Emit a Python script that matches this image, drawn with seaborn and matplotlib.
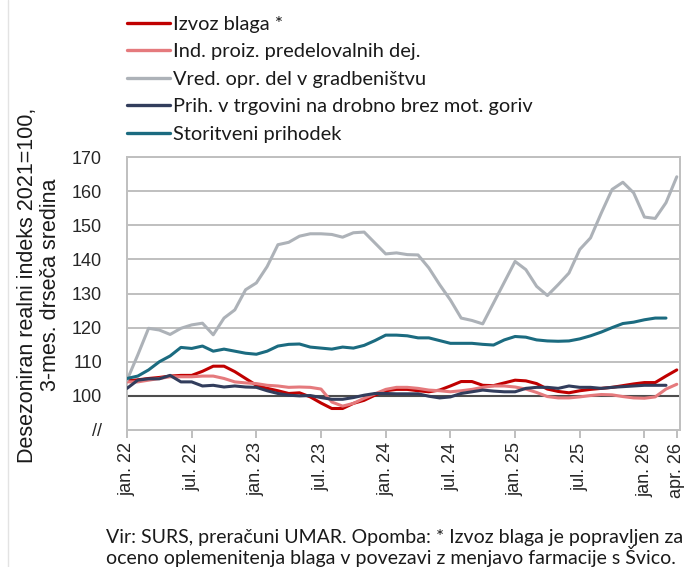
import numpy as np
import pandas as pd
import matplotlib
matplotlib.use("Agg")
import matplotlib.pyplot as plt
from matplotlib.lines import Line2D
import seaborn as sns

# ---------------- data (monthly, jan. 22 = index 0) ----------------
izvoz_blaga = [104.4, 104.7, 105.1, 105.4, 105.8, 106.0, 106.0, 107.2, 108.7, 108.7,
               107.1, 105.1, 103.1, 102.2, 101.5, 100.7, 100.9, 99.7, 97.9, 96.3,
               96.3, 97.8, 98.7, 100.2, 101.5, 101.9, 101.9, 101.5, 101.2, 101.7,
               102.9, 104.2, 104.2, 103.1, 103.0, 103.8, 104.6, 104.4, 103.6, 102.0,
               101.3, 100.9, 101.5, 101.9, 102.2, 102.5, 103.0, 103.5, 103.9, 103.9,
               105.8, 107.6]
ind_proiz = [104.1, 104.1, 104.6, 105.1, 105.6, 105.6, 105.6, 105.8, 105.8, 105.1,
             104.1, 103.8, 103.6, 103.1, 102.9, 102.5, 102.6, 102.5, 102.0, 98.2,
             97.0, 97.8, 99.3, 100.6, 101.9, 102.5, 102.5, 102.2, 101.7, 101.5,
             101.2, 101.5, 101.9, 102.5, 102.9, 102.9, 102.6, 102.0, 101.0, 99.8,
             99.4, 99.4, 99.7, 100.1, 100.4, 100.3, 99.8, 99.4, 99.3, 99.7,
             102.0, 103.4]
gradbenistvo = [104.6, 112.0, 119.8, 119.3, 118.0, 119.8, 120.8, 121.3, 117.9, 122.8,
                125.2, 131.1, 133.1, 137.9, 144.3, 145.0, 146.8, 147.5, 147.5, 147.3,
                146.5, 147.8, 148.0, 144.8, 141.6, 141.9, 141.4, 141.3, 137.5, 132.6,
                128.1, 122.8, 122.1, 121.1, 127.2, 133.3, 139.4, 137.0, 132.1, 129.4,
                132.6, 136.0, 142.9, 146.3, 153.6, 160.5, 162.6, 159.5, 152.4, 152.0,
                156.6, 164.2]
trgovina = [102.2, 104.6, 105.0, 105.0, 106.0, 104.1, 104.1, 102.9, 103.1, 102.6,
            102.9, 102.6, 102.5, 101.5, 100.7, 100.2, 100.0, 100.1, 99.5, 99.0,
            99.0, 99.5, 100.2, 100.7, 100.7, 100.6, 100.6, 100.6, 99.9, 99.4,
            99.7, 100.7, 101.2, 101.7, 101.4, 101.2, 101.2, 102.2, 102.5, 102.5,
            102.2, 102.9, 102.5, 102.5, 102.2, 102.5, 102.7, 102.9, 103.1, 103.1,
            103.1]
storitve = [105.1, 105.8, 107.6, 110.0, 111.7, 114.2, 113.9, 114.6, 113.1, 113.7,
            113.1, 112.5, 112.2, 113.1, 114.6, 115.1, 115.2, 114.3, 114.0, 113.7,
            114.3, 114.0, 114.8, 116.2, 117.8, 117.8, 117.6, 117.0, 117.0, 116.2,
            115.4, 115.4, 115.4, 115.1, 114.9, 116.4, 117.4, 117.2, 116.4, 116.1,
            116.0, 116.1, 116.7, 117.6, 118.7, 120.0, 121.2, 121.6, 122.3, 122.8,
            122.8]

series_names = ["Izvoz blaga *", "Ind. proiz. predelovalnih dej.",
                "Vred. opr. del v gradbeništvu",
                "Prih. v trgovini na drobno brez mot. goriv", "Storitveni prihodek"]
series_values = [izvoz_blaga, ind_proiz, gradbenistvo, trgovina, storitve]

tick_pos = [0, 6, 12, 18, 24, 30, 36, 42, 48, 51]
tick_labels = ["jan. 22", "jul. 22", "jan. 23", "jul. 23", "jan. 24", "jul. 24",
               "jan. 25", "jul. 25", "jan. 26", "apr. 26"]
y_ticks = [90, 100, 110, 120, 130, 140, 150, 160, 170]
y_labels = ["//", "100", "110", "120", "130", "140", "150", "160", "170"]

colors = ["#C00000", "#E57A7D", "#ADB2B8", "#323D5C", "#1B6B80"]

# ---------------- long-form table ----------------
rows = []
for name, vals in zip(series_names, series_values):
    for i, v in enumerate(vals):
        rows.append({"mesec": i, "indeks": v, "serija": name})
df = pd.DataFrame(rows)

# ---------------- plotting ----------------
sns.set_style("white")
plt.rcParams["font.family"] = ["Liberation Sans", "DejaVu Sans"]

fig = plt.figure(figsize=(6.89, 5.67), dpi=100)
W, H = 689, 567
ax = fig.add_axes([127 / W, 1 - 430 / H, (680 - 127) / W, (430 - 157) / H])

grid_c = "#BFBFBF"
for yv in y_ticks[1:]:
    ax.axhline(yv, color=grid_c, lw=1.4, zorder=0)
ax.axhline(100, color="#4D4D4D", lw=1.5, zorder=1)

sns.lineplot(data=df, x="mesec", y="indeks", hue="serija",
             hue_order=series_names, palette=dict(zip(series_names, colors)),
             linewidth=2.2, ax=ax, legend=True, zorder=3)

ax.set_xlim(0, 51.3)
ax.set_ylim(90, 170)
ax.set_xticks(tick_pos)
ax.set_xticklabels(tick_labels, rotation=90, fontsize=13, color="#262626")
ax.set_yticks(y_ticks)
ax.set_yticklabels(y_labels, fontsize=13, color="#262626")
ax.set_xlabel("")
ax.set_ylabel("")
ax.tick_params(axis="y", length=0, pad=18)
ax.tick_params(axis="x", length=6, width=1.4, color=grid_c, pad=3, direction="out")
ax.xaxis.set_ticks_position("bottom")
for s in ax.spines.values():
    s.set_color(grid_c)
    s.set_linewidth(1.4)

# legend
sns.move_legend(ax, "upper left", bbox_to_anchor=(127 / W, 1 - 16 / H),
                bbox_transform=fig.transFigure, frameon=False, title=None,
                prop={"family": ["Lato", "DejaVu Sans"], "size": 14.4},
                handlelength=2.15, handletextpad=0.15, labelspacing=0.52,
                borderaxespad=0, borderpad=0)
leg = ax.get_legend()
for t in leg.get_texts():
    t.set_color("#1A1A1A")
for h in leg.get_lines():
    h.set_linewidth(2.4)

# y axis title
fig.text(39 / W, 1 - 285 / H, "Desezoniran realni indeks 2021=100,\n3-mes. drseča sredina",
         rotation=90, ha="center", va="center", multialignment="center",
         fontsize=15.5, color="#1A1A1A", linespacing=1.12)

# footnote
fig.text(106 / W, 1 - 548 / H,
         "Vir: SURS, preračuni UMAR. Opomba: * Izvoz blaga je popravljen za\n"
         "oceno oplemenitenja blaga v povezavi z menjavo farmacije s Švico.",
         ha="left", va="center", fontsize=14, color="#1A1A1A",
         family=["Lato", "DejaVu Sans"], linespacing=1.0)

# thin frame line at the left edge
fig.add_artist(Line2D([8 / W, 8 / W], [0, 1], transform=fig.transFigure,
                      color="#E3E3E3", lw=1))

fig.savefig("out.png", dpi=100)
